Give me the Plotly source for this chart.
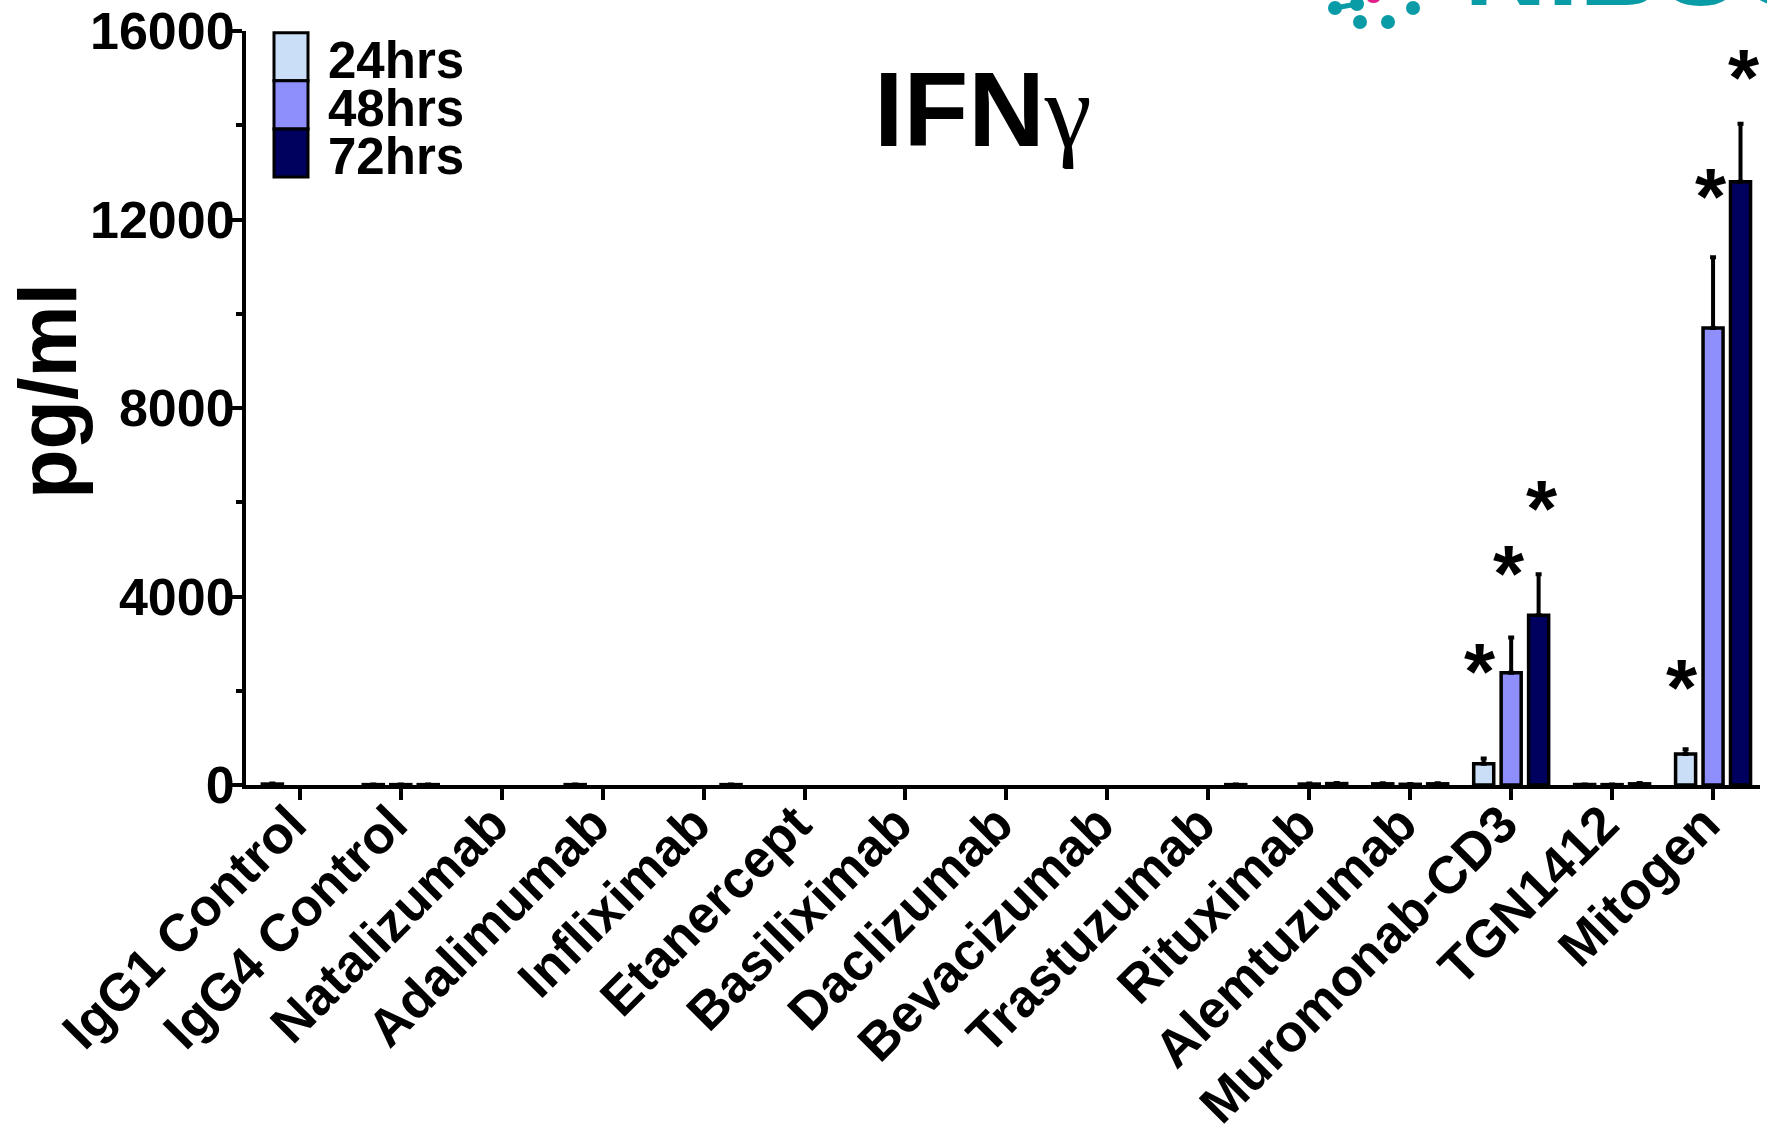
import plotly.graph_objects as go

# ---------------- data ----------------
categories = ["IgG1 Control", "IgG4 Control", "Natalizumab", "Adalimumab", "Infliximab",
              "Etanercept", "Basiliximab", "Daclizumab", "Bevacizumab", "Trastuzumab",
              "Rituximab", "Alemtuzumab", "Muromonab-CD3", "TGN1412", "Mitogen"]
series_names = ["24hrs", "48hrs", "72hrs"]
h24 = [20, 8, 0, 8, 0, 0, 0, 0, 0, 0, 0, 25, 450, 10, 660]
h24_err = [12, 2, 0, 2, 0, 0, 0, 0, 0, 0, 0, 10, 110, 3, 100]
h48 = [0, 8, 0, 0, 0, 0, 0, 0, 0, 0, 20, 15, 2380, 8, 9700]
h48_err = [0, 2, 0, 0, 0, 0, 0, 0, 0, 0, 10, 8, 750, 2, 1500]
h72 = [0, 8, 0, 0, 8, 0, 0, 0, 0, 8, 30, 25, 3600, 25, 12800]
h72_err = [0, 2, 0, 0, 2, 0, 0, 0, 0, 2, 12, 10, 870, 15, 1230]

# significance markers: category, series index, height (pg/ml) of the star
star_cats = ["Muromonab-CD3", "Muromonab-CD3", "Muromonab-CD3", "Mitogen", "Mitogen", "Mitogen"]
star_series = [0, 1, 2, 0, 1, 2]
star_y = [2620, 4700, 6070, 2290, 12710, 15220]

y_ticks = [0, 4000, 8000, 12000, 16000]

colors = ["#CADEF7", "#8E8EFC", "#00005E"]
FONT = "Liberation Sans, Arial, sans-serif"

W, H = 1767, 1130
L, R, T, B = 246, 7, 31, 345
PW, PH = W - L - R, H - T - B

def px(x):
    return (x - L) / PW

def py(y):
    return (H - B - y) / PH

fig = go.Figure()
vals = [h24, h48, h72]
errs = [h24_err, h48_err, h72_err]
for i in range(3):
    # zero values draw no visible bar (hidden under the axis line in the original)
    yv = [v if v > 0 else None for v in vals[i]]
    ev = [e if v > 0 else None for v, e in zip(vals[i], errs[i])]
    fig.add_trace(go.Bar(
        x=list(range(len(categories))), y=yv, name=series_names[i],
        marker=dict(color=colors[i], line=dict(color="black", width=3.5)),
        error_y=dict(type="data", array=ev, arrayminus=[0] * len(categories),
                     symmetric=False, color="black", thickness=4, width=3),
        showlegend=False,
    ))

slot = 0.272
offsets = [-slot, 0, slot]
star_dx = [-0.04, -0.02, 0.03]
annotations = []
for c, s, yv in zip(star_cats, star_series, star_y):
    xi = categories.index(c) + offsets[s] + star_dx[s]
    annotations.append(dict(x=xi, y=yv, xref="x", yref="y", text="*", showarrow=False,
                            font=dict(family=FONT, size=80, color="black", weight="bold"),
                            xanchor="center", yanchor="middle", yshift=-10))

# title
annotations.append(dict(x=px(872), y=py(110), xref="paper", yref="paper",
                        text="IFN<span style=\"font-family:'Liberation Serif','Times New Roman',serif;font-weight:normal\">γ</span>",
                        showarrow=False, xanchor="left", yanchor="middle",
                        font=dict(family=FONT, size=106, color="black", weight="bold")))
# y title
annotations.append(dict(x=px(48), y=py(391), xref="paper", yref="paper", text="pg/ml",
                        textangle=-90, showarrow=False, xanchor="center", yanchor="middle",
                        font=dict(family=FONT, size=81, color="black", weight="bold")))

# legend (manual)
shapes = []
box_top = 32.7
box_h = 48.1
for i, name in enumerate(series_names):
    y0 = box_top + i * box_h
    shapes.append(dict(type="rect", xref="paper", yref="paper",
                       x0=px(274), x1=px(308), y0=py(y0), y1=py(y0 + box_h),
                       fillcolor=colors[i], line=dict(color="black", width=3)))
    annotations.append(dict(x=px(326), y=py(y0 + box_h / 2 + 4), xref="paper", yref="paper",
                            text=name, showarrow=False, xanchor="left", yanchor="middle",
                            font=dict(family=FONT, size=51, color="black", weight="bold")))

# partial logo at top right
teal = "#0A9CA6"
dots = [(1335, 8), (1357, 4), (1360, 22), (1388, 22), (1413, 8)]
for (cx, cy) in dots:
    shapes.append(dict(type="circle", xref="paper", yref="paper",
                       x0=px(cx - 7), x1=px(cx + 7), y0=py(cy - 7), y1=py(cy + 7),
                       fillcolor=teal, line=dict(width=0)))
shapes.append(dict(type="line", xref="paper", yref="paper", x0=px(1335), y0=py(8),
                   x1=px(1357), y1=py(4), line=dict(color=teal, width=5)))
shapes.append(dict(type="circle", xref="paper", yref="paper",
                   x0=px(1367), x1=px(1380), y0=py(-6), y1=py(3),
                   fillcolor="#E0218A", line=dict(width=0)))
annotations.append(dict(x=px(1462), y=py(7), xref="paper", yref="paper", text="NIBSC",
                        showarrow=False, xanchor="left", yanchor="bottom", yshift=-24,
                        font=dict(family=FONT, size=115, color=teal, weight="bold")))

fig.update_layout(
    width=W, height=H,
    margin=dict(l=L, r=R, t=T, b=B, pad=0, autoexpand=False),
    paper_bgcolor="white", plot_bgcolor="white",
    barmode="group", bargap=0.184, bargroupgap=0.27,
    annotations=annotations, shapes=shapes,
    font=dict(family=FONT, color="black"),
)
fig.update_xaxes(
    range=[-0.533, 14.465], tickmode="array", tickvals=list(range(len(categories))),
    ticktext=categories, tickangle=-45, automargin=False,
    ticklabelstandoff=-28, ticklabelshift=-9,
    tickfont=dict(family=FONT, size=52.5, color="black", weight="bold"),
    showline=True, linecolor="black", linewidth=4, ticks="outside", ticklen=11,
    tickwidth=4, tickcolor="black", showgrid=False, zeroline=False,
)
fig.update_yaxes(
    range=[0, 16000], tickmode="array", tickvals=y_ticks, ticktext=[str(v) for v in y_ticks],
    automargin=False, ticklabelstandoff=-14,
    tickfont=dict(family=FONT, size=52, color="black", weight="bold"),
    showline=True, linecolor="black", linewidth=4, ticks="outside", ticklen=11,
    tickwidth=4, tickcolor="black", showgrid=False, zeroline=False,
    minor=dict(dtick=2000, tick0=0, ticks="outside", ticklen=6, tickwidth=4, tickcolor="black", showgrid=False),
)

fig.write_html("out.html", config={"displayModeBar": False},
               post_script="document.body.style.margin='0';document.body.style.overflow='hidden';")
